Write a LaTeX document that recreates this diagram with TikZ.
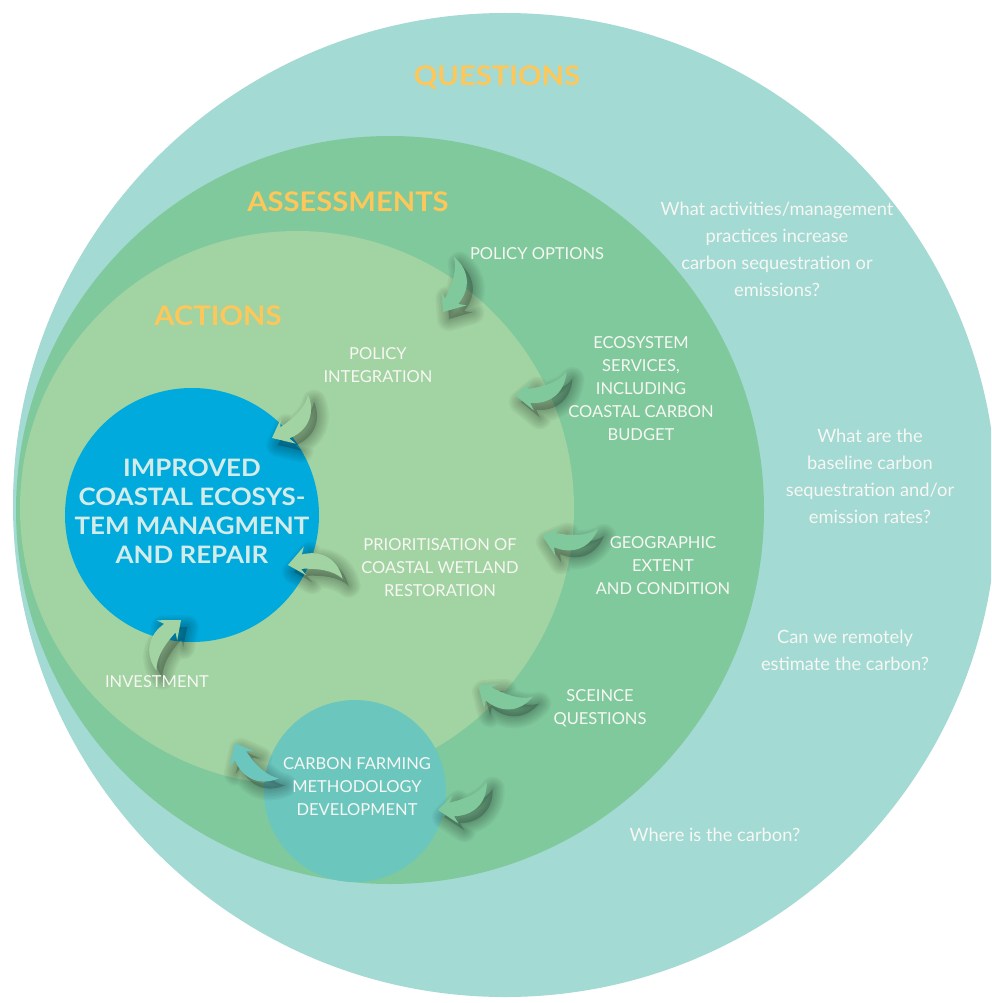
\documentclass[tikz,border=0pt]{standalone}
\usepackage{fontspec}
\setmainfont{Lato}
\newfontfamily\headfont[FakeStretch=1.08]{Lato}
\begin{document}
\definecolor{qteal}{HTML}{A3DAD4}
\definecolor{agreen}{HTML}{80C99C}
\definecolor{lgreen}{HTML}{A2D3A2}
\definecolor{cblue}{HTML}{00AADC}
\definecolor{cteal}{HTML}{6BC7BE}
\definecolor{gold}{HTML}{FDC75A}
\definecolor{paletext}{HTML}{D3ECE9}
\definecolor{labelwhite}{HTML}{F7F7F3}
\tikzset{
  arrowshape/.style={insert path={(0,0) -- (-17,15) -- (-13,7)
      .. controls (-30,10) and (-46,15) .. (-55,27)
      .. controls (-54,2) and (-36,-9) .. (-17,-8) -- (-21,-16) -- cycle}},
  % soft drop shadow built from stacked translucent strokes
  arrowshadow/.pic={
    \foreach \w in {24,21,18,15,12,9,6,3}{
      \path[draw=black, opacity=0.03, line width=\w pt, line join=round] [arrowshape];
    }
    \path[fill=black, opacity=0.2] [arrowshape];
  },
  arrowbody/.pic={\path[pic actions] [arrowshape];},
  heading/.style={text=gold, inner sep=0pt, font=\headfont\bfseries\fontsize{27}{30}\selectfont},
  label/.style={text=labelwhite, inner sep=0pt, align=center, font=\fontsize{16.5}{23}\selectfont},
  question/.style={text=labelwhite, inner sep=0pt, align=center, font=\fontsize{18.3}{27}\selectfont},
  goal/.style={text=paletext, inner sep=0pt, align=center, font=\headfont\bfseries\fontsize{24}{29}\selectfont}
}
% curved arrow: tip x, tip y (measured downwards), direction, mirror (1 or -1), colour
\newcommand\curvarrow[5]{%
  \pic[rotate=#3, yscale=#4, scale=0.92] at (#1+6, -#2-7) {arrowshadow};
  \pic[rotate=#3, yscale=#4, scale=0.92, fill=#5] at (#1, -#2) {arrowbody};
}
\begin{tikzpicture}[x=1pt, y=1pt]
  \useasboundingbox (0,0) rectangle (991,-1003);
  \clip (0,0) rectangle (991,-1003);
  \fill[white] (0,0) rectangle (991,-1003);

  % nested rings
  \fill[qteal]  (505,-505) circle (492);
  \fill[agreen] (390,-510) circle (374);
  \fill[lgreen] (297,-508) circle (277);
  \fill[cblue]  (192,-515) circle (127);
  \fill[cteal]  (355,-791) circle (91);

  % arrows
  \curvarrow{443}{312}{233}{-1}{agreen}
  \curvarrow{515}{395}{178}{-1}{agreen}
  \curvarrow{272}{438}{204}{-1}{lgreen}
  \curvarrow{288}{565}{192}{1}{lgreen}
  \curvarrow{542}{535}{160}{-1}{agreen}
  \curvarrow{478}{685}{142}{-1}{agreen}
  \curvarrow{438}{810}{184}{-1}{agreen}
  \curvarrow{235}{743}{115}{-1}{cteal}
  \curvarrow{181}{620}{38}{-1}{lgreen}

  % ring headings
  \node[heading] (hq) at (497,-78) {QUESTIONS};
  \node[heading] (ha) at (348,-202) {ASSESSMENTS};
  \node[heading] (hc) at (218,-316) {ACTIONS};

  % goal
  \node[goal] (goal) at (192,-511) {IMPROVED\\COASTAL ECOSYS-\\TEM MANAGMENT\\AND REPAIR};

  % assessments and actions
  \node[label] (popt) at (537,-254) {POLICY OPTIONS};
  \node[label] (pint) at (378,-365) {POLICY\\INTEGRATION};
  \node[label] (eco) at (641,-389) {ECOSYSTEM\\SERVICES,\\INCLUDING\\COASTAL CARBON\\BUDGET};
  \node[label] (prio) at (440,-568) {PRIORITISATION OF\\COASTAL WETLAND\\RESTORATION};
  \node[label] (geo) at (663,-566) {GEOGRAPHIC\\EXTENT\\AND CONDITION};
  \node[label] (sci) at (600,-708) {SCEINCE\\QUESTIONS};
  \node[label] (inv) at (157,-682) {INVESTMENT};
  \node[label] (cfm) at (357,-787) {CARBON FARMING\\METHODOLOGY\\DEVELOPMENT};

  % questions
  \node[question] (q1) at (777,-249) {What activities/management\\practices increase\\carbon sequestration or\\emissions?};
  \node[question] (q2) at (870,-476) {What are the\\baseline carbon\\sequestration and/or\\emission rates?};
  \node[question] (q3) at (845,-650) {Can we remotely\\estimate the carbon?};
  \node[question] (q4) at (715,-835) {Where is the carbon?};
\end{tikzpicture}
\end{document}
